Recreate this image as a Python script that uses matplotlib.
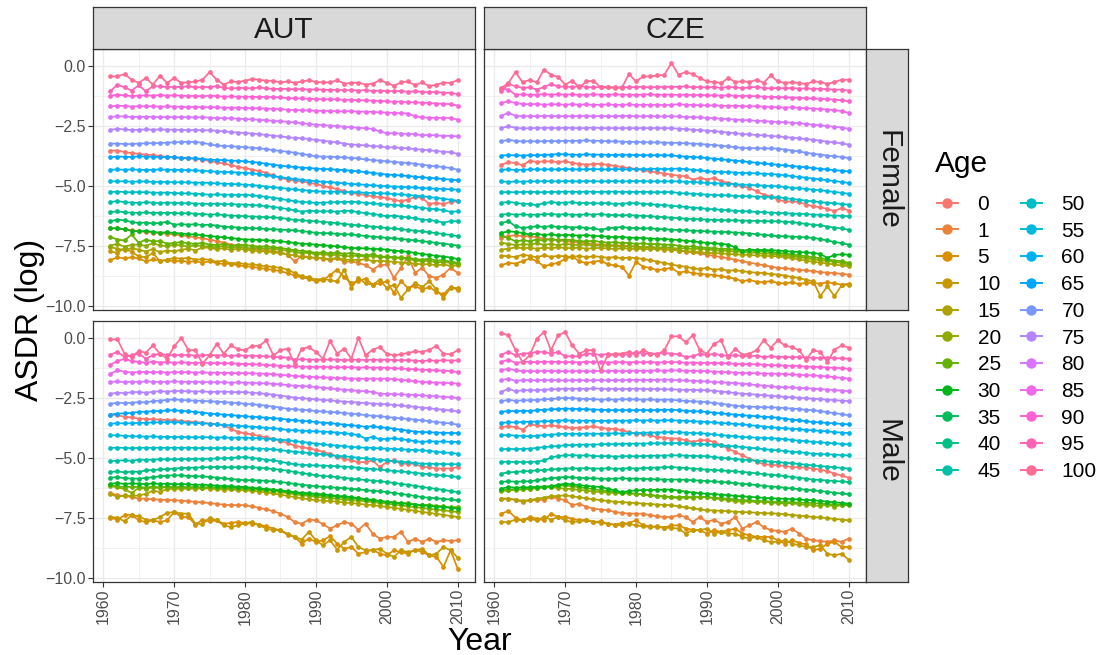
import numpy as np
import matplotlib.pyplot as plt
from matplotlib.lines import Line2D

plt.rcParams['font.family'] = ['Liberation Sans', 'DejaVu Sans']

# log age-specific death rates, 1961-2010
years = list(range(1961, 2011))
ages = [0, 1, 5, 10, 15, 20, 25, 30, 35, 40, 45, 50, 55, 60, 65, 70, 75, 80, 85, 90, 95, 100]
countries = ['AUT', 'CZE']
sexes = ['Female', 'Male']

aut_female = {
    0: [-3.51,-3.51,-3.57,-3.62,-3.65,-3.68,-3.70,-3.74,-3.77,-3.80,
        -3.82,-3.84,-3.86,-3.89,-3.95,-4.00,-4.05,-4.12,-4.19,-4.24,
        -4.31,-4.37,-4.44,-4.55,-4.65,-4.72,-4.76,-4.80,-4.85,-4.90,
        -4.98,-5.05,-5.12,-5.20,-5.28,-5.32,-5.36,-5.42,-5.45,-5.49,
        -5.56,-5.62,-5.56,-5.44,-5.49,-5.74,-5.69,-5.74,-5.65,-5.63],
    1: [-6.74,-6.76,-6.80,-6.84,-6.88,-6.90,-6.93,-6.95,-6.98,-7.01,
        -7.05,-7.08,-7.12,-7.17,-7.22,-7.28,-7.35,-7.43,-7.50,-7.57,
        -7.60,-7.64,-7.67,-7.70,-7.74,-7.85,-8.13,-7.90,-7.95,-7.99,
        -8.02,-8.08,-8.00,-8.15,-8.13,-8.20,-8.28,-8.47,-8.30,-8.26,
        -8.82,-8.40,-7.92,-8.61,-8.40,-8.75,-8.82,-8.68,-8.40,-8.61],
    5: [-8.08,-7.96,-8.01,-7.96,-8.01,-8.13,-8.05,-8.10,-8.08,-8.13,
        -8.10,-8.15,-8.12,-8.18,-8.13,-8.20,-8.24,-8.22,-8.30,-8.33,
        -8.36,-8.40,-8.45,-8.48,-8.54,-8.62,-8.72,-8.80,-8.85,-8.96,
        -8.92,-8.70,-8.47,-8.80,-9.03,-8.95,-8.85,-9.10,-9.05,-8.96,
        -9.44,-8.96,-9.24,-9.15,-9.31,-9.20,-9.40,-9.51,-9.20,-9.31],
    10: [-7.71,-7.78,-7.57,-7.74,-7.92,-7.96,-7.78,-8.13,-8.06,-7.99,
         -8.02,-7.98,-8.06,-8.04,-8.06,-8.15,-8.10,-8.22,-8.18,-8.26,
         -8.25,-8.30,-8.34,-8.36,-8.40,-8.47,-8.62,-8.75,-8.80,-8.89,
         -8.85,-8.92,-8.96,-8.47,-9.24,-8.82,-9.05,-9.10,-8.90,-9.24,
         -9.10,-9.65,-9.30,-9.03,-9.20,-8.96,-9.30,-9.65,-9.24,-9.24],
    15: [-7.54,-7.60,-7.66,-7.58,-7.64,-7.72,-7.62,-7.75,-7.68,-7.71,
         -7.65,-7.60,-7.68,-7.55,-7.57,-7.62,-7.58,-7.66,-7.60,-7.64,
         -7.68,-7.70,-7.72,-7.76,-7.78,-7.85,-7.88,-7.95,-7.96,-7.99,
         -8.00,-8.04,-7.98,-8.06,-8.06,-8.08,-8.04,-8.12,-8.10,-8.13,
         -8.15,-8.18,-8.20,-8.22,-8.26,-8.24,-8.30,-8.26,-8.32,-8.30],
    20: [-7.47,-7.40,-7.52,-7.44,-7.43,-7.48,-7.38,-7.46,-7.50,-7.43,
         -7.46,-7.52,-7.45,-7.50,-7.50,-7.55,-7.48,-7.58,-7.52,-7.57,
         -7.60,-7.55,-7.62,-7.60,-7.64,-7.70,-7.72,-7.80,-7.76,-7.85,
         -7.82,-7.88,-7.85,-7.90,-7.92,-7.88,-7.95,-7.90,-7.96,-7.92,
         -8.00,-7.96,-8.05,-8.08,-8.13,-8.10,-8.18,-8.15,-8.20,-8.24],
    25: [-7.11,-7.22,-7.26,-7.01,-7.36,-7.22,-7.30,-7.28,-7.40,-7.36,
         -7.33,-7.38,-7.40,-7.36,-7.43,-7.45,-7.40,-7.48,-7.44,-7.46,
         -7.48,-7.52,-7.50,-7.55,-7.57,-7.62,-7.66,-7.70,-7.72,-7.78,
         -7.75,-7.80,-7.76,-7.82,-7.78,-7.85,-7.88,-7.84,-7.92,-7.96,
         -7.94,-8.00,-7.97,-8.04,-8.06,-8.02,-8.10,-8.08,-8.14,-8.19],
    30: [-6.76,-6.74,-6.80,-6.85,-6.88,-6.86,-6.90,-6.93,-6.92,-6.94,
         -6.97,-7.00,-7.01,-7.04,-7.08,-7.10,-7.13,-7.16,-7.19,-7.22,
         -7.22,-7.24,-7.25,-7.27,-7.29,-7.33,-7.36,-7.39,-7.41,-7.43,
         -7.46,-7.48,-7.51,-7.54,-7.57,-7.58,-7.59,-7.61,-7.62,-7.64,
         -7.68,-7.71,-7.73,-7.78,-7.82,-7.86,-7.90,-7.93,-7.97,-8.03],
    35: [-6.46,-6.39,-6.42,-6.49,-6.53,-6.51,-6.55,-6.53,-6.48,-6.60,
         -6.58,-6.60,-6.58,-6.62,-6.60,-6.64,-6.68,-6.70,-6.72,-6.74,
         -6.74,-6.76,-6.78,-6.79,-6.81,-6.82,-6.84,-6.87,-6.90,-6.94,
         -6.95,-6.96,-6.98,-7.00,-7.01,-7.04,-7.07,-7.10,-7.12,-7.15,
         -7.17,-7.20,-7.22,-7.26,-7.29,-7.32,-7.36,-7.39,-7.43,-7.47],
    40: [-6.07,-6.05,-6.08,-6.10,-6.11,-6.09,-6.12,-6.10,-6.11,-6.11,
         -6.13,-6.12,-6.15,-6.16,-6.18,-6.17,-6.20,-6.22,-6.23,-6.25,
         -6.26,-6.27,-6.29,-6.30,-6.32,-6.36,-6.40,-6.42,-6.44,-6.46,
         -6.49,-6.51,-6.54,-6.57,-6.60,-6.63,-6.66,-6.68,-6.71,-6.74,
         -6.76,-6.79,-6.82,-6.85,-6.88,-6.92,-6.95,-6.99,-7.03,-7.08],
    45: [-5.65,-5.62,-5.66,-5.68,-5.69,-5.67,-5.68,-5.70,-5.68,-5.69,
         -5.70,-5.71,-5.72,-5.73,-5.74,-5.72,-5.75,-5.74,-5.76,-5.76,
         -5.78,-5.80,-5.83,-5.86,-5.90,-5.95,-6.00,-6.06,-6.02,-6.04,
         -6.05,-6.04,-6.06,-6.02,-6.03,-6.08,-6.12,-6.15,-6.20,-6.25,
         -6.22,-6.26,-6.30,-6.33,-6.39,-6.40,-6.45,-6.52,-6.45,-6.46],
    50: [-5.24,-5.22,-5.24,-5.25,-5.24,-5.25,-5.26,-5.27,-5.26,-5.28,
         -5.29,-5.30,-5.31,-5.33,-5.35,-5.34,-5.35,-5.35,-5.36,-5.35,
         -5.38,-5.41,-5.44,-5.48,-5.52,-5.58,-5.62,-5.65,-5.67,-5.69,
         -5.68,-5.67,-5.66,-5.65,-5.65,-5.66,-5.69,-5.71,-5.74,-5.76,
         -5.78,-5.80,-5.83,-5.87,-5.90,-5.93,-5.96,-5.99,-6.07,-6.04],
    55: [-4.79,-4.80,-4.79,-4.81,-4.80,-4.80,-4.82,-4.81,-4.82,-4.83,
         -4.83,-4.84,-4.85,-4.85,-4.86,-4.88,-4.89,-4.90,-4.92,-4.93,
         -4.95,-4.98,-5.01,-5.04,-5.07,-5.10,-5.13,-5.16,-5.18,-5.21,
         -5.22,-5.22,-5.23,-5.24,-5.24,-5.25,-5.27,-5.28,-5.29,-5.30,
         -5.32,-5.34,-5.36,-5.39,-5.42,-5.45,-5.48,-5.52,-5.56,-5.60],
    60: [-4.31,-4.30,-4.31,-4.30,-4.31,-4.32,-4.31,-4.30,-4.31,-4.31,
         -4.32,-4.33,-4.34,-4.35,-4.38,-4.39,-4.40,-4.41,-4.43,-4.44,
         -4.46,-4.50,-4.54,-4.58,-4.62,-4.66,-4.70,-4.73,-4.76,-4.79,
         -4.81,-4.83,-4.85,-4.88,-4.90,-4.92,-4.94,-4.96,-4.98,-5.00,
         -5.01,-5.02,-5.04,-5.05,-5.07,-5.09,-5.10,-5.11,-5.13,-5.14],
    65: [-3.79,-3.76,-3.77,-3.78,-3.75,-3.76,-3.77,-3.78,-3.78,-3.79,
         -3.81,-3.82,-3.84,-3.86,-3.89,-3.90,-3.91,-3.93,-3.94,-3.96,
         -3.99,-4.02,-4.06,-4.10,-4.14,-4.17,-4.20,-4.22,-4.24,-4.26,
         -4.28,-4.29,-4.31,-4.33,-4.35,-4.38,-4.41,-4.44,-4.48,-4.51,
         -4.53,-4.55,-4.57,-4.60,-4.63,-4.65,-4.67,-4.70,-4.72,-4.75],
    70: [-3.22,-3.22,-3.24,-3.24,-3.22,-3.21,-3.20,-3.20,-3.18,-3.17,
         -3.15,-3.15,-3.15,-3.19,-3.25,-3.30,-3.32,-3.33,-3.35,-3.37,
         -3.39,-3.42,-3.45,-3.49,-3.53,-3.56,-3.60,-3.65,-3.70,-3.75,
         -3.76,-3.77,-3.78,-3.80,-3.82,-3.84,-3.88,-3.91,-3.93,-3.96,
         -3.98,-4.01,-4.03,-4.06,-4.10,-4.14,-4.17,-4.20,-4.24,-4.31],
    75: [-2.64,-2.61,-2.63,-2.66,-2.64,-2.63,-2.64,-2.63,-2.64,-2.64,
         -2.65,-2.66,-2.65,-2.67,-2.66,-2.69,-2.71,-2.74,-2.76,-2.78,
         -2.80,-2.83,-2.86,-2.89,-2.92,-2.96,-2.98,-3.00,-3.03,-3.06,
         -3.10,-3.14,-3.17,-3.22,-3.26,-3.27,-3.30,-3.32,-3.34,-3.38,
         -3.38,-3.40,-3.42,-3.45,-3.47,-3.50,-3.53,-3.56,-3.58,-3.65],
    80: [-2.11,-2.08,-2.09,-2.11,-2.10,-2.11,-2.10,-2.12,-2.11,-2.11,
         -2.12,-2.12,-2.13,-2.12,-2.14,-2.15,-2.16,-2.17,-2.18,-2.20,
         -2.21,-2.23,-2.25,-2.27,-2.29,-2.31,-2.34,-2.37,-2.40,-2.43,
         -2.45,-2.47,-2.49,-2.52,-2.54,-2.56,-2.58,-2.61,-2.71,-2.79,
         -2.79,-2.80,-2.82,-2.83,-2.87,-2.86,-2.88,-2.90,-2.90,-2.92],
    85: [-1.67,-1.64,-1.65,-1.68,-1.66,-1.67,-1.66,-1.68,-1.67,-1.68,
         -1.69,-1.70,-1.69,-1.71,-1.70,-1.71,-1.72,-1.73,-1.72,-1.74,
         -1.74,-1.75,-1.76,-1.77,-1.78,-1.81,-1.82,-1.83,-1.84,-1.85,
         -1.86,-1.86,-1.87,-1.88,-1.87,-1.89,-1.89,-1.90,-1.92,-1.93,
         -1.94,-1.95,-1.97,-2.08,-2.13,-2.14,-2.15,-2.15,-2.16,-2.22],
    90: [-1.22,-1.19,-1.21,-1.24,-1.22,-1.21,-1.22,-1.20,-1.22,-1.21,
         -1.22,-1.24,-1.23,-1.25,-1.22,-1.24,-1.26,-1.25,-1.27,-1.26,
         -1.27,-1.28,-1.27,-1.29,-1.29,-1.33,-1.33,-1.34,-1.35,-1.36,
         -1.37,-1.38,-1.37,-1.40,-1.39,-1.41,-1.42,-1.43,-1.44,-1.46,
         -1.47,-1.47,-1.50,-1.50,-1.52,-1.53,-1.55,-1.56,-1.58,-1.64],
    95: [-1.04,-0.76,-0.88,-1.01,-0.79,-1.04,-0.83,-0.83,-0.86,-0.86,
         -0.86,-0.83,-0.88,-0.86,-0.86,-0.83,-0.90,-0.92,-0.90,-0.90,
         -0.92,-0.88,-0.92,-0.94,-0.94,-0.94,-0.96,-0.94,-0.97,-0.96,
         -0.97,-0.99,-0.97,-1.00,-0.99,-1.01,-0.99,-1.03,-1.01,-1.03,
         -1.04,-1.03,-1.06,-1.04,-1.06,-1.08,-1.07,-1.10,-1.11,-1.15],
    100: [-0.42,-0.42,-0.32,-0.56,-0.69,-0.49,-0.76,-0.39,-0.69,-0.49,
          -0.69,-0.67,-0.63,-0.56,-0.24,-0.56,-0.76,-0.63,-0.65,-0.60,
          -0.53,-0.56,-0.60,-0.60,-0.67,-0.63,-0.69,-0.63,-0.58,-0.65,
          -0.67,-0.67,-0.58,-0.72,-0.69,-0.68,-0.76,-0.72,-0.58,-0.69,
          -0.81,-0.67,-0.63,-0.79,-0.67,-0.83,-0.76,-0.68,-0.69,-0.58],
}

cze_female = {
    0: [-4.10,-4.00,-4.03,-4.13,-3.93,-3.99,-3.96,-3.96,-3.99,-3.96,
        -4.03,-4.07,-4.10,-4.07,-4.07,-4.10,-4.15,-4.20,-4.24,-4.28,
        -4.33,-4.38,-4.42,-4.47,-4.51,-4.56,-4.58,-4.72,-4.65,-4.72,
        -4.65,-4.79,-4.85,-4.93,-5.00,-5.07,-5.21,-5.35,-5.42,-5.56,
        -5.63,-5.63,-5.65,-5.76,-5.83,-5.88,-5.94,-6.04,-5.90,-6.01],
    1: [-7.15,-7.08,-7.04,-7.08,-7.08,-7.12,-7.18,-7.22,-7.25,-7.29,
        -7.32,-7.35,-7.37,-7.40,-7.43,-7.44,-7.46,-7.47,-7.49,-7.50,
        -7.53,-7.55,-7.58,-7.61,-7.64,-7.68,-7.72,-7.76,-7.80,-7.85,
        -7.90,-7.95,-8.00,-8.06,-8.13,-8.18,-8.24,-8.29,-8.35,-8.40,
        -8.42,-8.45,-8.48,-8.51,-8.54,-8.58,-8.60,-8.62,-8.65,-8.68],
    5: [-8.29,-8.19,-8.22,-8.12,-8.01,-8.12,-8.33,-8.26,-8.19,-8.03,
        -7.92,-8.13,-8.20,-8.15,-8.10,-8.25,-8.30,-8.35,-8.72,-8.15,
        -8.35,-8.40,-8.50,-8.45,-8.40,-8.60,-8.55,-8.62,-8.65,-8.68,
        -8.70,-8.75,-8.80,-8.85,-8.96,-8.90,-8.98,-9.00,-8.95,-9.03,
        -9.05,-9.00,-9.08,-9.02,-9.03,-9.06,-9.00,-9.05,-9.10,-9.07],
    10: [-7.89,-7.92,-7.95,-7.85,-7.90,-7.96,-7.88,-7.94,-7.90,-7.92,
         -7.95,-7.90,-7.96,-7.92,-7.94,-7.98,-7.95,-8.00,-7.97,-7.99,
         -8.03,-8.08,-8.14,-8.20,-8.26,-8.32,-8.35,-8.42,-8.45,-8.40,
         -8.48,-8.45,-8.52,-8.50,-8.54,-8.58,-8.60,-8.62,-8.66,-8.68,
         -8.72,-8.78,-8.82,-8.90,-8.96,-9.58,-9.17,-9.58,-9.13,-9.10],
    15: [-7.64,-7.60,-7.55,-7.58,-7.57,-7.60,-7.56,-7.58,-7.55,-7.57,
         -7.58,-7.56,-7.60,-7.58,-7.57,-7.59,-7.62,-7.58,-7.60,-7.62,
         -7.60,-7.63,-7.61,-7.65,-7.64,-7.68,-7.70,-7.72,-7.75,-7.78,
         -7.78,-7.80,-7.82,-7.84,-7.85,-7.87,-7.88,-7.90,-7.91,-7.92,
         -7.96,-8.00,-8.05,-8.10,-8.15,-8.18,-8.22,-8.26,-8.30,-8.33],
    20: [-7.36,-7.40,-7.45,-7.42,-7.43,-7.38,-7.44,-7.40,-7.46,-7.40,
         -7.43,-7.45,-7.42,-7.48,-7.46,-7.50,-7.48,-7.52,-7.50,-7.53,
         -7.55,-7.52,-7.56,-7.54,-7.57,-7.60,-7.58,-7.62,-7.60,-7.64,
         -7.66,-7.70,-7.68,-7.74,-7.72,-7.78,-7.76,-7.82,-7.80,-7.85,
         -7.88,-7.92,-7.95,-8.00,-8.05,-8.08,-8.12,-8.15,-8.20,-8.26],
    25: [-7.05,-7.15,-7.30,-7.25,-7.29,-7.22,-7.26,-7.20,-7.24,-7.22,
         -7.25,-7.28,-7.30,-7.27,-7.32,-7.35,-7.33,-7.37,-7.36,-7.40,
         -7.38,-7.42,-7.40,-7.44,-7.43,-7.48,-7.52,-7.50,-7.55,-7.57,
         -7.58,-7.62,-7.60,-7.65,-7.68,-7.66,-7.72,-7.70,-7.75,-7.78,
         -7.80,-7.85,-7.88,-7.92,-7.96,-8.00,-8.05,-8.10,-8.12,-8.19],
    30: [-6.94,-6.88,-6.90,-6.95,-7.01,-6.98,-7.03,-7.00,-7.05,-7.02,
         -7.04,-7.06,-7.03,-7.07,-7.08,-7.10,-7.12,-7.11,-7.14,-7.15,
         -7.16,-7.18,-7.19,-7.20,-7.22,-7.24,-7.27,-7.30,-7.33,-7.36,
         -7.38,-7.40,-7.43,-7.55,-7.71,-7.64,-7.66,-7.65,-7.67,-7.68,
         -7.70,-7.72,-7.74,-7.76,-7.78,-7.82,-7.99,-7.86,-7.84,-7.85],
    35: [-6.53,-6.46,-6.67,-6.74,-6.70,-6.67,-6.69,-6.66,-6.70,-6.68,
         -6.72,-6.70,-6.74,-6.76,-6.81,-6.76,-6.72,-6.70,-6.73,-6.74,
         -6.76,-6.75,-6.78,-6.79,-6.81,-6.82,-6.84,-6.85,-6.86,-6.88,
         -6.89,-6.90,-6.91,-6.93,-6.94,-6.97,-7.00,-7.02,-7.05,-7.08,
         -7.08,-7.10,-7.11,-7.13,-7.15,-7.20,-7.26,-7.32,-7.37,-7.43],
    40: [-6.18,-6.16,-6.18,-6.17,-6.19,-6.18,-6.17,-6.16,-6.18,-6.17,
         -6.18,-6.19,-6.17,-6.18,-6.16,-6.19,-6.20,-6.21,-6.20,-6.22,
         -6.23,-6.25,-6.27,-6.29,-6.31,-6.33,-6.35,-6.36,-6.38,-6.39,
         -6.40,-6.41,-6.42,-6.42,-6.43,-6.44,-6.44,-6.45,-6.46,-6.46,
         -6.48,-6.50,-6.53,-6.57,-6.60,-6.63,-6.68,-6.72,-6.76,-6.81],
    45: [-5.69,-5.65,-5.69,-5.73,-5.74,-5.79,-5.70,-5.66,-5.69,-5.68,
         -5.67,-5.70,-5.69,-5.71,-5.71,-5.70,-5.74,-5.72,-5.71,-5.70,
         -5.73,-5.75,-5.77,-5.79,-5.81,-5.84,-5.86,-5.89,-5.91,-5.94,
         -5.96,-5.98,-6.00,-6.02,-6.04,-6.05,-6.07,-6.08,-6.10,-6.11,
         -6.12,-6.14,-6.15,-6.16,-6.18,-6.19,-6.21,-6.22,-6.23,-6.25],
    50: [-5.25,-5.24,-5.25,-5.24,-5.23,-5.24,-5.25,-5.23,-5.24,-5.22,
         -5.23,-5.24,-5.22,-5.23,-5.24,-5.23,-5.22,-5.24,-5.23,-5.24,
         -5.23,-5.24,-5.25,-5.24,-5.24,-5.28,-5.30,-5.31,-5.33,-5.35,
         -5.36,-5.37,-5.38,-5.40,-5.41,-5.42,-5.43,-5.44,-5.45,-5.46,
         -5.49,-5.53,-5.56,-5.60,-5.63,-5.66,-5.69,-5.71,-5.74,-5.76],
    55: [-4.79,-4.82,-4.80,-4.81,-4.79,-4.80,-4.78,-4.79,-4.80,-4.78,
         -4.79,-4.80,-4.78,-4.79,-4.80,-4.79,-4.78,-4.80,-4.79,-4.78,
         -4.79,-4.80,-4.79,-4.80,-4.79,-4.80,-4.81,-4.82,-4.84,-4.86,
         -4.87,-4.89,-4.90,-4.91,-4.93,-4.94,-4.96,-4.97,-4.99,-5.00,
         -5.03,-5.06,-5.08,-5.11,-5.14,-5.17,-5.20,-5.24,-5.27,-5.31],
    60: [-4.31,-4.30,-4.32,-4.31,-4.30,-4.29,-4.30,-4.29,-4.30,-4.28,
         -4.29,-4.30,-4.29,-4.28,-4.29,-4.30,-4.28,-4.29,-4.30,-4.28,
         -4.29,-4.28,-4.27,-4.28,-4.28,-4.26,-4.29,-4.31,-4.34,-4.38,
         -4.39,-4.40,-4.41,-4.43,-4.44,-4.45,-4.46,-4.48,-4.49,-4.51,
         -4.54,-4.58,-4.61,-4.64,-4.68,-4.71,-4.75,-4.78,-4.82,-4.86],
    65: [-3.72,-3.70,-3.71,-3.72,-3.70,-3.71,-3.69,-3.68,-3.66,-3.67,
         -3.68,-3.69,-3.67,-3.68,-3.68,-3.69,-3.70,-3.68,-3.69,-3.70,
         -3.70,-3.71,-3.70,-3.71,-3.71,-3.75,-3.76,-3.78,-3.80,-3.82,
         -3.85,-3.88,-3.90,-3.93,-3.96,-3.99,-4.02,-4.05,-4.08,-4.10,
         -4.13,-4.16,-4.18,-4.21,-4.24,-4.27,-4.30,-4.33,-4.35,-4.38],
    70: [-3.13,-3.06,-3.11,-3.13,-3.12,-3.13,-3.12,-3.11,-3.12,-3.10,
         -3.11,-3.10,-3.09,-3.11,-3.10,-3.12,-3.13,-3.14,-3.15,-3.15,
         -3.16,-3.17,-3.17,-3.18,-3.19,-3.19,-3.21,-3.22,-3.24,-3.26,
         -3.28,-3.31,-3.34,-3.37,-3.40,-3.41,-3.41,-3.42,-3.42,-3.43,
         -3.47,-3.51,-3.55,-3.60,-3.65,-3.68,-3.72,-3.75,-3.78,-3.82],
    75: [-2.57,-2.50,-2.56,-2.59,-2.58,-2.57,-2.57,-2.56,-2.58,-2.56,
         -2.57,-2.58,-2.57,-2.56,-2.57,-2.58,-2.57,-2.58,-2.57,-2.58,
         -2.57,-2.58,-2.57,-2.58,-2.58,-2.60,-2.62,-2.64,-2.66,-2.68,
         -2.70,-2.73,-2.76,-2.79,-2.82,-2.84,-2.86,-2.88,-2.90,-2.92,
         -2.95,-2.97,-3.00,-3.03,-3.06,-3.10,-3.14,-3.17,-3.21,-3.26],
    80: [-2.06,-1.94,-2.06,-2.08,-2.07,-2.08,-2.06,-2.07,-2.08,-2.07,
         -2.08,-2.07,-2.06,-2.08,-2.07,-2.08,-2.08,-2.06,-2.07,-2.08,
         -2.08,-2.07,-2.09,-2.08,-2.08,-2.09,-2.11,-2.12,-2.13,-2.15,
         -2.16,-2.18,-2.20,-2.22,-2.24,-2.25,-2.27,-2.28,-2.30,-2.32,
         -2.33,-2.35,-2.37,-2.40,-2.43,-2.46,-2.49,-2.52,-2.55,-2.60],
    85: [-1.53,-1.46,-1.53,-1.57,-1.58,-1.57,-1.60,-1.58,-1.59,-1.60,
         -1.58,-1.60,-1.59,-1.61,-1.60,-1.59,-1.61,-1.60,-1.59,-1.61,
         -1.60,-1.61,-1.60,-1.62,-1.60,-1.58,-1.60,-1.61,-1.62,-1.63,
         -1.63,-1.64,-1.65,-1.64,-1.66,-1.67,-1.66,-1.68,-1.69,-1.71,
         -1.72,-1.71,-1.73,-1.74,-1.76,-1.78,-1.80,-1.83,-1.86,-1.94],
    90: [-0.94,-0.97,-1.18,-1.17,-1.19,-1.18,-1.16,-1.18,-1.17,-1.18,
         -1.17,-1.19,-1.18,-1.17,-1.18,-1.19,-1.17,-1.18,-1.18,-1.19,
         -1.18,-1.17,-1.19,-1.18,-1.18,-1.19,-1.18,-1.20,-1.19,-1.21,
         -1.21,-1.22,-1.21,-1.23,-1.24,-1.23,-1.25,-1.26,-1.27,-1.28,
         -1.29,-1.30,-1.31,-1.33,-1.34,-1.35,-1.37,-1.39,-1.41,-1.46],
    95: [-1.04,-0.74,-0.83,-0.90,-0.88,-0.97,-0.86,-0.74,-0.83,-0.86,
         -0.86,-0.83,-0.86,-0.88,-0.86,-0.85,-0.88,-0.86,-0.88,-0.86,
         -0.85,-0.88,-0.86,-0.86,-0.85,-0.86,-0.83,-0.88,-0.86,-0.88,
         -0.86,-0.90,-0.86,-0.88,-0.90,-0.88,-0.86,-0.90,-0.92,-0.90,
         -0.92,-0.90,-0.93,-0.92,-0.94,-0.93,-0.96,-0.97,-0.97,-1.01],
    100: [-0.90,-0.69,-0.24,-0.67,-0.56,-0.67,-0.14,-0.35,-0.44,-0.76,
          -0.60,-0.88,-0.63,-0.60,-0.88,-0.88,-0.90,-0.90,-0.32,-0.63,
          -0.42,-0.42,-0.38,-0.35,0.14,-0.35,-0.24,-0.32,-0.49,-0.63,
          -0.65,-0.69,-0.49,-0.65,-0.63,-0.65,-0.56,-0.69,-0.38,-0.63,
          -0.69,-0.67,-0.69,-0.74,-0.63,-0.65,-0.74,-0.65,-0.56,-0.56],
}

aut_male = {
    0: [-3.19,-3.22,-3.28,-3.31,-3.36,-3.37,-3.39,-3.40,-3.42,-3.43,
        -3.46,-3.48,-3.50,-3.53,-3.57,-3.60,-3.64,-3.78,-3.92,-3.97,
        -4.02,-4.08,-4.14,-4.20,-4.28,-4.38,-4.48,-4.55,-4.60,-4.66,
        -4.75,-4.82,-4.96,-5.03,-5.10,-5.17,-5.17,-5.10,-5.38,-5.17,
        -5.10,-5.24,-5.24,-5.24,-5.38,-5.38,-5.44,-5.44,-5.44,-5.38],
    1: [-6.46,-6.56,-6.58,-6.63,-6.69,-6.70,-6.72,-6.74,-6.75,-6.76,
        -6.78,-6.80,-6.83,-6.85,-6.88,-6.92,-6.94,-6.97,-6.96,-6.97,
        -7.02,-7.08,-7.14,-7.22,-7.32,-7.46,-7.67,-7.74,-7.57,-7.60,
        -7.76,-7.94,-7.81,-7.67,-7.74,-7.99,-7.74,-8.15,-8.36,-8.29,
        -8.29,-8.08,-8.50,-8.36,-8.50,-8.36,-8.50,-8.43,-8.46,-8.43],
    5: [-7.49,-7.57,-7.39,-7.36,-7.60,-7.67,-7.60,-7.67,-7.60,-7.25,
        -7.46,-7.46,-7.78,-7.57,-7.64,-7.60,-7.74,-7.71,-7.67,-7.71,
        -7.74,-7.78,-7.85,-7.94,-8.02,-8.20,-8.29,-8.57,-8.36,-8.50,
        -8.43,-8.26,-8.57,-8.78,-8.71,-8.99,-8.92,-8.82,-8.99,-9.06,
        -8.85,-8.92,-8.99,-8.82,-8.92,-9.06,-9.12,-9.54,-8.85,-9.61],
    10: [-7.46,-7.49,-7.64,-7.39,-7.43,-7.57,-7.60,-7.46,-7.29,-7.25,
         -7.32,-7.32,-7.74,-7.76,-7.49,-7.60,-7.81,-7.88,-7.81,-7.71,
         -7.67,-7.81,-7.94,-8.01,-8.00,-8.16,-8.29,-8.40,-8.08,-8.43,
         -8.64,-8.43,-8.82,-8.50,-8.29,-8.71,-8.85,-8.85,-8.78,-8.99,
         -9.12,-8.85,-8.92,-8.85,-8.78,-9.06,-8.99,-8.71,-8.85,-9.15],
    15: [-6.49,-6.63,-6.56,-6.59,-6.56,-6.50,-6.36,-6.42,-6.30,-6.28,
         -6.30,-6.27,-6.29,-6.26,-6.28,-6.30,-6.32,-6.31,-6.34,-6.35,
         -6.37,-6.40,-6.44,-6.48,-6.53,-6.58,-6.63,-6.68,-6.72,-6.76,
         -6.78,-6.80,-6.82,-6.86,-6.88,-6.91,-6.94,-6.97,-7.00,-7.04,
         -7.08,-7.12,-7.16,-7.20,-7.25,-7.29,-7.33,-7.37,-7.42,-7.46],
    20: [-6.17,-6.22,-6.30,-6.46,-6.25,-6.28,-6.22,-6.26,-6.20,-6.24,
         -6.22,-6.25,-6.20,-6.24,-6.22,-6.26,-6.25,-6.28,-6.27,-6.30,
         -6.30,-6.33,-6.35,-6.38,-6.42,-6.47,-6.51,-6.55,-6.58,-6.63,
         -6.65,-6.68,-6.70,-6.74,-6.76,-6.78,-6.80,-6.84,-6.87,-6.90,
         -6.94,-6.98,-7.01,-7.05,-7.08,-7.12,-7.15,-7.18,-7.22,-7.25],
    25: [-6.14,-6.18,-6.22,-6.20,-6.21,-6.24,-6.19,-6.23,-6.20,-6.22,
         -6.20,-6.23,-6.21,-6.25,-6.21,-6.24,-6.22,-6.26,-6.24,-6.25,
         -6.28,-6.30,-6.33,-6.35,-6.38,-6.42,-6.47,-6.49,-6.53,-6.56,
         -6.58,-6.62,-6.60,-6.66,-6.70,-6.68,-6.74,-6.76,-6.80,-6.83,
         -6.85,-6.90,-6.88,-6.94,-6.97,-6.95,-7.00,-7.02,-7.06,-7.04],
    30: [-6.07,-6.05,-6.08,-6.06,-6.07,-6.09,-6.06,-6.08,-6.07,-6.10,
         -6.08,-6.10,-6.12,-6.11,-6.14,-6.15,-6.17,-6.18,-6.20,-6.21,
         -6.24,-6.27,-6.29,-6.32,-6.35,-6.39,-6.43,-6.45,-6.47,-6.49,
         -6.52,-6.55,-6.58,-6.60,-6.63,-6.67,-6.71,-6.75,-6.79,-6.83,
         -6.86,-6.89,-6.91,-6.94,-6.97,-7.00,-7.03,-7.05,-7.08,-7.11],
    35: [-5.82,-5.80,-5.84,-5.86,-5.86,-5.83,-5.80,-5.76,-5.74,-5.72,
         -5.73,-5.75,-5.76,-5.77,-5.79,-5.82,-5.85,-5.88,-5.90,-5.93,
         -5.92,-5.94,-5.95,-5.98,-6.00,-6.04,-6.08,-6.11,-6.15,-6.18,
         -6.20,-6.22,-6.24,-6.26,-6.28,-6.31,-6.34,-6.37,-6.39,-6.42,
         -6.46,-6.50,-6.54,-6.58,-6.63,-6.66,-6.68,-6.71,-6.73,-6.76],
    40: [-5.58,-5.56,-5.60,-5.57,-5.58,-5.52,-5.50,-5.48,-5.46,-5.44,
         -5.42,-5.41,-5.40,-5.39,-5.38,-5.37,-5.38,-5.39,-5.38,-5.38,
         -5.39,-5.41,-5.43,-5.46,-5.49,-5.53,-5.58,-5.63,-5.67,-5.72,
         -5.75,-5.77,-5.80,-5.83,-5.86,-5.89,-5.92,-5.94,-5.97,-6.00,
         -6.04,-6.08,-6.12,-6.16,-6.21,-6.25,-6.29,-6.33,-6.38,-6.42],
    45: [-5.13,-5.11,-5.10,-5.12,-5.07,-5.08,-5.07,-5.06,-5.05,-5.06,
         -5.04,-5.05,-5.03,-5.04,-5.03,-5.02,-5.01,-5.00,-4.98,-4.96,
         -5.00,-5.03,-5.08,-5.10,-5.15,-5.22,-5.26,-5.28,-5.30,-5.31,
         -5.32,-5.33,-5.35,-5.36,-5.38,-5.41,-5.44,-5.46,-5.48,-5.51,
         -5.54,-5.56,-5.59,-5.62,-5.65,-5.68,-5.71,-5.73,-5.76,-5.79],
    50: [-4.58,-4.57,-4.58,-4.59,-4.58,-4.57,-4.58,-4.57,-4.58,-4.57,
         -4.58,-4.57,-4.58,-4.59,-4.58,-4.59,-4.58,-4.60,-4.59,-4.60,
         -4.60,-4.61,-4.62,-4.64,-4.67,-4.71,-4.74,-4.77,-4.79,-4.82,
         -4.85,-4.88,-4.91,-4.93,-4.96,-4.99,-5.02,-5.05,-5.07,-5.10,
         -5.13,-5.15,-5.18,-5.21,-5.24,-5.24,-5.25,-5.25,-5.26,-5.26],
    55: [-4.06,-4.05,-4.08,-4.09,-4.10,-4.11,-4.10,-4.12,-4.11,-4.13,
         -4.12,-4.13,-4.14,-4.13,-4.14,-4.15,-4.14,-4.16,-4.15,-4.15,
         -4.17,-4.18,-4.20,-4.22,-4.24,-4.26,-4.30,-4.33,-4.37,-4.40,
         -4.43,-4.46,-4.48,-4.51,-4.54,-4.56,-4.57,-4.58,-4.60,-4.61,
         -4.62,-4.64,-4.65,-4.67,-4.68,-4.71,-4.74,-4.77,-4.79,-4.82],
    60: [-3.57,-3.55,-3.56,-3.55,-3.54,-3.53,-3.52,-3.51,-3.51,-3.50,
         -3.52,-3.53,-3.54,-3.56,-3.57,-3.60,-3.62,-3.64,-3.66,-3.68,
         -3.70,-3.72,-3.74,-3.76,-3.79,-3.83,-3.85,-3.86,-3.88,-3.89,
         -3.90,-3.92,-3.94,-3.97,-4.00,-4.05,-4.19,-4.12,-4.22,-4.20,
         -4.18,-4.22,-4.25,-4.30,-4.33,-4.30,-4.32,-4.31,-4.33,-4.33],
    65: [-3.19,-3.15,-3.14,-3.12,-3.08,-3.07,-3.05,-3.04,-3.02,-3.01,
         -3.04,-3.06,-3.08,-3.11,-3.15,-3.17,-3.19,-3.21,-3.24,-3.26,
         -3.28,-3.30,-3.32,-3.34,-3.36,-3.40,-3.43,-3.45,-3.47,-3.50,
         -3.53,-3.55,-3.58,-3.61,-3.64,-3.66,-3.70,-3.68,-3.72,-3.74,
         -3.78,-3.82,-3.86,-3.90,-3.92,-3.93,-3.94,-3.95,-3.96,-3.96],
    70: [-2.74,-2.70,-2.71,-2.70,-2.67,-2.68,-2.63,-2.61,-2.58,-2.56,
         -2.58,-2.60,-2.61,-2.62,-2.64,-2.65,-2.67,-2.69,-2.71,-2.74,
         -2.76,-2.79,-2.82,-2.86,-2.90,-2.95,-2.97,-2.99,-3.01,-3.04,
         -3.06,-3.08,-3.10,-3.13,-3.15,-3.18,-3.21,-3.24,-3.26,-3.29,
         -3.32,-3.35,-3.37,-3.40,-3.43,-3.47,-3.50,-3.53,-3.56,-3.61],
    75: [-2.32,-2.28,-2.30,-2.26,-2.25,-2.28,-2.24,-2.22,-2.23,-2.21,
         -2.21,-2.22,-2.23,-2.22,-2.25,-2.24,-2.23,-2.25,-2.26,-2.25,
         -2.28,-2.30,-2.33,-2.36,-2.40,-2.44,-2.48,-2.51,-2.53,-2.56,
         -2.58,-2.60,-2.62,-2.65,-2.67,-2.69,-2.71,-2.73,-2.75,-2.76,
         -2.79,-2.81,-2.84,-2.87,-2.90,-2.93,-2.96,-2.99,-3.02,-3.06],
    80: [-1.83,-1.81,-1.84,-1.82,-1.83,-1.81,-1.82,-1.83,-1.82,-1.81,
         -1.82,-1.83,-1.82,-1.84,-1.83,-1.85,-1.84,-1.86,-1.85,-1.86,
         -1.87,-1.88,-1.89,-1.91,-1.93,-1.96,-1.99,-2.00,-2.02,-2.04,
         -2.07,-2.10,-2.13,-2.15,-2.18,-2.20,-2.22,-2.25,-2.32,-2.33,
         -2.34,-2.35,-2.36,-2.37,-2.39,-2.41,-2.43,-2.45,-2.47,-2.50],
    85: [-1.49,-1.35,-1.40,-1.44,-1.42,-1.41,-1.43,-1.42,-1.44,-1.42,
         -1.43,-1.42,-1.44,-1.43,-1.45,-1.44,-1.46,-1.45,-1.47,-1.46,
         -1.47,-1.48,-1.49,-1.51,-1.53,-1.56,-1.58,-1.60,-1.61,-1.63,
         -1.64,-1.65,-1.66,-1.68,-1.69,-1.69,-1.70,-1.69,-1.70,-1.69,
         -1.72,-1.74,-1.77,-1.80,-1.83,-1.84,-1.86,-1.87,-1.88,-1.90],
    90: [-1.11,-0.96,-0.86,-0.96,-1.00,-1.03,-0.98,-1.02,-1.00,-1.03,
         -1.01,-1.03,-1.04,-1.02,-1.05,-1.04,-1.06,-1.05,-1.07,-1.08,
         -1.09,-1.10,-1.12,-1.14,-1.16,-1.18,-1.18,-1.19,-1.20,-1.21,
         -1.20,-1.21,-1.22,-1.21,-1.22,-1.23,-1.22,-1.24,-1.23,-1.24,
         -1.26,-1.27,-1.29,-1.30,-1.32,-1.33,-1.35,-1.36,-1.38,-1.42],
    95: [-0.69,-0.58,-0.79,-0.72,-0.65,-0.86,-0.72,-0.65,-0.72,-0.70,
         -0.72,-0.70,-0.74,-0.72,-0.70,-0.73,-0.72,-0.75,-0.72,-0.74,
         -0.73,-0.75,-0.76,-0.78,-0.80,-0.82,-0.90,-0.88,-0.90,-0.90,
         -0.91,-0.89,-0.90,-0.92,-0.91,-0.90,-0.92,-0.90,-0.91,-0.90,
         -0.92,-0.93,-0.92,-0.94,-0.96,-0.93,-0.95,-0.92,-0.94,-0.93],
    100: [-0.06,-0.06,-0.65,-0.79,-0.54,-0.61,-0.31,-0.65,-0.86,-0.35,
          0.01,-0.49,-0.51,-1.07,-0.72,-0.24,-0.65,-0.31,-0.47,-0.51,
          -0.33,-0.33,-0.10,-0.72,-0.51,-0.44,-1.07,-0.44,-0.38,-0.58,
          -0.86,-0.12,-0.65,-0.44,-0.86,0.01,-0.72,-0.49,-0.38,-0.65,
          -0.72,-0.68,-0.62,-0.56,-0.58,-0.49,-0.33,-0.65,-0.68,-0.51],
}

cze_male = {
    0: [-3.71,-3.68,-3.71,-3.82,-3.60,-3.64,-3.68,-3.64,-3.68,-3.71,
        -3.74,-3.74,-3.71,-3.68,-3.74,-3.78,-3.78,-3.85,-3.92,-3.99,
        -3.99,-4.06,-4.13,-4.15,-4.19,-4.19,-4.26,-4.33,-4.26,-4.26,
        -4.33,-4.47,-4.61,-4.75,-4.89,-5.03,-5.15,-5.26,-5.28,-5.31,
        -5.33,-5.38,-5.38,-5.40,-5.44,-5.49,-5.55,-5.65,-5.73,-5.82],
    1: [-6.69,-6.69,-6.74,-6.83,-6.76,-6.76,-6.74,-6.63,-6.69,-6.76,
        -6.97,-6.90,-7.04,-7.11,-7.15,-7.18,-7.25,-7.29,-7.32,-7.32,
        -7.32,-7.39,-7.43,-7.46,-7.46,-7.39,-7.46,-7.67,-7.46,-7.67,
        -7.57,-7.74,-7.67,-7.46,-7.94,-7.81,-7.67,-7.88,-8.01,-8.04,
        -8.08,-7.94,-8.15,-8.36,-8.43,-8.46,-8.50,-8.43,-8.50,-8.36],
    5: [-7.32,-7.21,-7.49,-7.60,-7.46,-7.53,-7.60,-7.32,-7.46,-7.46,
        -7.53,-7.60,-7.57,-7.67,-7.64,-7.74,-7.78,-7.81,-7.71,-7.60,
        -7.81,-7.85,-7.88,-7.90,-7.81,-7.81,-7.94,-7.99,-8.01,-8.15,
        -8.01,-8.08,-8.01,-7.94,-8.15,-8.22,-8.29,-8.29,-8.29,-8.43,
        -8.57,-8.43,-8.54,-8.60,-8.85,-8.78,-8.57,-8.50,-8.71,-8.71],
    10: [-7.67,-7.67,-7.57,-7.60,-7.53,-7.60,-7.46,-7.57,-7.46,-7.60,
         -7.67,-7.64,-7.60,-7.67,-7.70,-7.74,-7.78,-7.71,-7.74,-7.81,
         -7.85,-7.88,-7.85,-7.90,-7.92,-7.94,-8.15,-8.01,-8.01,-7.94,
         -8.15,-8.08,-8.15,-8.15,-8.29,-8.36,-8.29,-8.43,-8.50,-8.50,
         -8.43,-8.57,-8.64,-8.71,-8.71,-8.64,-8.99,-9.06,-8.99,-9.24],
    15: [-6.69,-6.72,-6.74,-6.78,-6.76,-6.70,-6.65,-6.60,-6.58,-6.56,
         -6.60,-6.64,-6.68,-6.72,-6.76,-6.79,-6.82,-6.84,-6.86,-6.88,
         -6.90,-6.92,-6.94,-6.96,-6.97,-7.02,-7.06,-7.10,-7.14,-7.18,
         -7.19,-7.20,-7.22,-7.24,-7.25,-7.27,-7.28,-7.30,-7.31,-7.32,
         -7.35,-7.38,-7.40,-7.43,-7.46,-7.48,-7.51,-7.54,-7.57,-7.60],
    20: [-6.38,-6.35,-6.33,-6.30,-6.28,-6.25,-6.23,-6.21,-6.25,-6.28,
         -6.30,-6.33,-6.36,-6.40,-6.42,-6.44,-6.46,-6.47,-6.48,-6.49,
         -6.52,-6.55,-6.58,-6.60,-6.63,-6.68,-6.64,-6.66,-6.62,-6.63,
         -6.68,-6.72,-6.76,-6.80,-6.83,-6.80,-6.85,-6.82,-6.86,-6.88,
         -6.90,-6.88,-6.93,-6.95,-6.97,-7.00,-6.94,-7.03,-6.96,-6.90],
    25: [-6.35,-6.32,-6.30,-6.31,-6.28,-6.26,-6.22,-6.19,-6.16,-6.14,
         -6.18,-6.22,-6.26,-6.30,-6.35,-6.38,-6.42,-6.45,-6.47,-6.49,
         -6.52,-6.55,-6.58,-6.61,-6.63,-6.63,-6.62,-6.64,-6.63,-6.63,
         -6.66,-6.68,-6.70,-6.73,-6.76,-6.77,-6.79,-6.80,-6.82,-6.83,
         -6.84,-6.85,-6.86,-6.87,-6.88,-6.90,-6.92,-6.94,-6.96,-6.97],
    30: [-6.28,-6.21,-6.24,-6.22,-6.23,-6.20,-6.19,-6.18,-6.12,-6.07,
         -6.10,-6.14,-6.16,-6.19,-6.21,-6.28,-6.35,-6.42,-6.38,-6.35,
         -6.34,-6.33,-6.33,-6.32,-6.32,-6.36,-6.40,-6.44,-6.47,-6.49,
         -6.51,-6.53,-6.55,-6.58,-6.60,-6.62,-6.64,-6.66,-6.68,-6.69,
         -6.70,-6.72,-6.73,-6.75,-6.76,-6.79,-6.82,-6.85,-6.88,-6.90],
    35: [-6.00,-5.97,-5.99,-5.98,-5.97,-5.93,-5.88,-5.85,-5.82,-5.79,
         -5.81,-5.83,-5.84,-5.85,-5.86,-5.87,-5.86,-5.85,-5.86,-5.86,
         -5.87,-5.88,-5.89,-5.90,-5.90,-5.90,-5.91,-5.93,-5.94,-5.96,
         -5.98,-6.00,-6.02,-6.05,-6.07,-6.10,-6.13,-6.16,-6.19,-6.21,
         -6.24,-6.27,-6.30,-6.32,-6.35,-6.38,-6.41,-6.45,-6.48,-6.51],
    40: [-5.65,-5.60,-5.58,-5.56,-5.54,-5.52,-5.50,-5.48,-5.46,-5.44,
         -5.43,-5.44,-5.42,-5.44,-5.44,-5.43,-5.45,-5.44,-5.43,-5.44,
         -5.42,-5.41,-5.40,-5.39,-5.38,-5.40,-5.42,-5.44,-5.46,-5.49,
         -5.50,-5.52,-5.54,-5.56,-5.58,-5.61,-5.64,-5.67,-5.70,-5.72,
         -5.76,-5.79,-5.83,-5.86,-5.90,-5.92,-5.94,-5.96,-5.98,-6.00],
    45: [-5.17,-5.15,-5.17,-5.17,-5.17,-5.15,-5.10,-4.98,-4.92,-4.89,
         -4.88,-4.90,-4.89,-4.91,-4.93,-4.92,-4.94,-4.93,-4.92,-4.93,
         -4.92,-4.91,-4.90,-4.90,-4.89,-4.89,-4.90,-4.91,-4.92,-4.93,
         -4.96,-4.99,-5.02,-5.04,-5.07,-5.09,-5.11,-5.13,-5.15,-5.17,
         -5.20,-5.22,-5.25,-5.28,-5.31,-5.34,-5.36,-5.39,-5.41,-5.44],
    50: [-4.64,-4.62,-4.63,-4.62,-4.61,-4.58,-4.55,-4.52,-4.50,-4.47,
         -4.46,-4.45,-4.44,-4.44,-4.43,-4.42,-4.42,-4.41,-4.41,-4.40,
         -4.40,-4.39,-4.39,-4.38,-4.38,-4.38,-4.39,-4.40,-4.42,-4.43,
         -4.45,-4.47,-4.50,-4.52,-4.54,-4.57,-4.60,-4.63,-4.66,-4.68,
         -4.71,-4.74,-4.76,-4.79,-4.82,-4.84,-4.85,-4.86,-4.88,-4.89],
    55: [-4.06,-4.04,-4.07,-4.08,-4.10,-4.07,-4.05,-4.03,-4.01,-3.99,
         -3.99,-4.00,-3.98,-3.99,-3.99,-3.98,-3.97,-3.98,-3.97,-3.96,
         -3.95,-3.94,-3.94,-3.93,-3.92,-3.93,-3.94,-3.96,-3.97,-3.99,
         -4.02,-4.05,-4.07,-4.10,-4.12,-4.14,-4.15,-4.16,-4.18,-4.19,
         -4.22,-4.25,-4.28,-4.30,-4.33,-4.35,-4.37,-4.39,-4.41,-4.43],
    60: [-3.54,-3.51,-3.52,-3.50,-3.49,-3.48,-3.47,-3.46,-3.44,-3.43,
         -3.44,-3.45,-3.44,-3.45,-3.46,-3.45,-3.44,-3.45,-3.44,-3.43,
         -3.44,-3.43,-3.44,-3.43,-3.43,-3.44,-3.45,-3.47,-3.48,-3.50,
         -3.52,-3.54,-3.56,-3.58,-3.60,-3.63,-3.66,-3.69,-3.72,-3.74,
         -3.76,-3.78,-3.80,-3.83,-3.85,-3.87,-3.89,-3.92,-3.94,-3.96],
    65: [-3.08,-3.04,-3.05,-3.03,-3.04,-3.01,-2.99,-2.97,-2.96,-2.94,
         -2.95,-2.96,-2.97,-2.98,-2.99,-3.00,-3.01,-3.00,-3.01,-3.01,
         -3.00,-3.01,-3.00,-2.99,-2.99,-3.01,-3.03,-3.05,-3.06,-3.08,
         -3.11,-3.14,-3.17,-3.19,-3.22,-3.24,-3.26,-3.28,-3.30,-3.32,
         -3.36,-3.40,-3.43,-3.47,-3.50,-3.52,-3.54,-3.56,-3.58,-3.60],
    70: [-2.64,-2.57,-2.62,-2.60,-2.59,-2.58,-2.56,-2.54,-2.52,-2.49,
         -2.51,-2.53,-2.54,-2.55,-2.57,-2.56,-2.57,-2.55,-2.56,-2.56,
         -2.57,-2.56,-2.58,-2.57,-2.57,-2.60,-2.62,-2.64,-2.65,-2.67,
         -2.71,-2.74,-2.78,-2.82,-2.85,-2.86,-2.87,-2.88,-2.89,-2.90,
         -2.92,-2.94,-2.96,-2.99,-3.01,-3.05,-3.09,-3.13,-3.17,-3.22],
    75: [-2.25,-2.11,-2.22,-2.18,-2.17,-2.18,-2.15,-2.14,-2.13,-2.11,
         -2.12,-2.11,-2.12,-2.10,-2.11,-2.12,-2.11,-2.13,-2.12,-2.11,
         -2.12,-2.13,-2.12,-2.14,-2.14,-2.15,-2.16,-2.16,-2.17,-2.18,
         -2.20,-2.23,-2.26,-2.29,-2.32,-2.34,-2.36,-2.38,-2.41,-2.43,
         -2.45,-2.47,-2.49,-2.51,-2.53,-2.55,-2.57,-2.59,-2.61,-2.63],
    80: [-1.76,-1.69,-1.79,-1.76,-1.75,-1.77,-1.74,-1.76,-1.75,-1.77,
         -1.76,-1.75,-1.77,-1.76,-1.75,-1.77,-1.75,-1.76,-1.74,-1.75,
         -1.74,-1.75,-1.74,-1.73,-1.74,-1.76,-1.77,-1.78,-1.80,-1.81,
         -1.83,-1.85,-1.86,-1.88,-1.90,-1.93,-1.96,-1.98,-2.01,-2.04,
         -2.05,-2.06,-2.08,-2.09,-2.11,-2.13,-2.15,-2.17,-2.19,-2.22],
    85: [-1.35,-1.28,-1.35,-1.38,-1.37,-1.39,-1.36,-1.38,-1.37,-1.39,
         -1.38,-1.37,-1.39,-1.38,-1.37,-1.38,-1.36,-1.38,-1.37,-1.36,
         -1.37,-1.36,-1.35,-1.36,-1.35,-1.35,-1.36,-1.37,-1.37,-1.38,
         -1.40,-1.41,-1.43,-1.44,-1.46,-1.46,-1.47,-1.48,-1.48,-1.49,
         -1.50,-1.52,-1.53,-1.55,-1.56,-1.58,-1.60,-1.63,-1.66,-1.69],
    90: [-1.00,-0.90,-1.04,-1.00,-0.99,-1.01,-0.98,-1.00,-0.99,-1.01,
         -1.00,-1.02,-0.99,-1.01,-1.00,-1.02,-1.01,-1.00,-1.02,-1.00,
         -1.01,-1.00,-1.02,-1.01,-1.00,-1.01,-1.03,-1.02,-1.04,-1.03,
         -1.05,-1.04,-1.06,-1.07,-1.08,-1.09,-1.10,-1.11,-1.13,-1.14,
         -1.15,-1.16,-1.17,-1.19,-1.20,-1.21,-1.23,-1.24,-1.26,-1.28],
    95: [-0.69,-0.58,-0.72,-0.65,-0.63,-0.58,-0.58,-0.65,-0.58,-0.76,
         -0.76,-0.76,-0.65,-0.65,-0.72,-0.65,-0.72,-0.69,-0.69,-0.58,
         -0.65,-0.65,-0.65,-0.63,-0.65,-0.68,-0.79,-0.76,-0.65,-0.72,
         -0.65,-0.72,-0.74,-0.72,-0.74,-0.76,-0.74,-0.79,-0.76,-0.79,
         -0.78,-0.80,-0.79,-0.82,-0.82,-0.83,-0.82,-0.84,-0.85,-0.86],
    100: [0.22,0.11,-0.51,-1.00,-0.72,-0.03,0.25,-0.51,0.11,0.25,
          -0.31,-0.65,-0.51,-0.51,-1.35,-0.72,-0.65,-0.65,-0.58,-0.72,
          -0.49,-0.65,-0.69,-0.51,0.07,0.07,-0.17,0.11,-0.51,-0.65,
          -0.24,-0.10,-0.79,-0.44,-0.69,-0.65,-0.51,-0.10,-0.40,-0.10,
          -0.31,-0.38,-0.51,-0.90,-0.51,-0.58,-1.00,-0.49,-0.31,-0.40],
}

panels = {('AUT', 'Female'): aut_female, ('CZE', 'Female'): cze_female,
          ('AUT', 'Male'): aut_male, ('CZE', 'Male'): cze_male}


def hue_colors(n, c=100.0, l=65.0):
    # ggplot2 default hue palette (polar CIE-Luv -> sRGB)
    un, vn = 0.19784, 0.46834
    m = np.array([[3.2404542, -1.5371385, -0.4985314],
                  [-0.9692660, 1.8760108, 0.0415560],
                  [0.0556434, -0.2040259, 1.0572252]])
    cols = []
    for i in range(n):
        h = np.deg2rad(15 + 360.0 * i / n)
        u, v = c * np.cos(h), c * np.sin(h)
        Y = ((l + 16) / 116) ** 3
        up = u / (13 * l) + un
        vp = v / (13 * l) + vn
        X = Y * 9 * up / (4 * vp)
        Z = Y * (12 - 3 * up - 20 * vp) / (4 * vp)
        rgb = m @ np.array([X, Y, Z])
        rgb = np.where(rgb <= 0.0031308, 12.92 * rgb, 1.055 * np.clip(rgb, 0, None) ** (1 / 2.4) - 0.055)
        cols.append(tuple(np.clip(rgb, 0, 1)))
    return cols


colors = hue_colors(len(ages))

W, H = 1105, 655
fig = plt.figure(figsize=(W / 100, H / 100), dpi=100)


def box(x0, y0, x1, y1):
    return [x0 / W, 1 - y1 / H, (x1 - x0) / W, (y1 - y0) / H]


col_x = {'AUT': (93, 475), 'CZE': (484, 866)}
row_y = {'Female': (49.3, 310.3), 'Male': (321, 582)}
border = '#333333'

for (country, sex), data in panels.items():
    x0, x1 = col_x[country]
    y0, y1 = row_y[sex]
    ax = fig.add_axes(box(x0, y0, x1, y1))
    ax.set_xlim(1958.55, 2012.45)
    ax.set_ylim(-10.17, 0.71)
    ax.set_xticks(range(1960, 2011, 10))
    ax.set_xticks(range(1965, 2010, 10), minor=True)
    ax.set_yticks([-10, -7.5, -5, -2.5, 0])
    ax.set_yticks([-8.75, -6.25, -3.75, -1.25], minor=True)
    ax.grid(which='major', color='#EBEBEB', lw=1.0)
    ax.grid(which='minor', color='#EBEBEB', lw=0.5)
    ax.set_axisbelow(True)
    for s in ax.spines.values():
        s.set_color(border)
        s.set_linewidth(0.9)
    ax.tick_params(which='minor', length=0)
    ax.tick_params(which='major', length=3.5, width=0.8, color=border,
                   labelsize=11.5, labelcolor='#4D4D4D', pad=1.5)
    ax.set_yticklabels(['\u221210.0', '\u22127.5', '\u22125.0', '\u22122.5', '0.0'])
    ax.set_xticklabels([str(y) for y in range(1960, 2011, 10)], rotation=90)
    if sex == 'Female':
        ax.tick_params(axis='x', which='both', bottom=False, labelbottom=False)
    if country == 'CZE':
        ax.tick_params(axis='y', which='both', left=False, labelleft=False)

    for a, c in zip(ages, colors):
        ax.plot(years, data[a], color=c, lw=1.25, zorder=2)
    for a, c in zip(ages, colors):
        ax.plot(years, data[a], 'o', color=c, ms=3.4, mew=0, zorder=3)

# facet strips
for country, (x0, x1) in col_x.items():
    s = fig.add_axes(box(x0, 7.3, x1, 49.3))
    s.set_facecolor('#D9D9D9')
    s.set_xticks([]); s.set_yticks([])
    for sp in s.spines.values():
        sp.set_color(border); sp.set_linewidth(0.9)
    s.text(0.5, 0.47, country, ha='center', va='center', fontsize=21.5,
           color='#1A1A1A', transform=s.transAxes)
for sex, (y0, y1) in row_y.items():
    s = fig.add_axes(box(866, y0, 908, y1))
    s.set_facecolor('#D9D9D9')
    s.set_xticks([]); s.set_yticks([])
    for sp in s.spines.values():
        sp.set_color(border); sp.set_linewidth(0.9)
    s.text(0.5, 0.5, sex, ha='center', va='center', fontsize=21.5,
           rotation=-90, color='#1A1A1A', transform=s.transAxes)

fig.text(30 / W, 1 - 320 / H, 'ASDR (log)', rotation=90, ha='center',
         va='center', fontsize=23)
fig.text(479.5 / W, 1 - 650 / H, 'Year', ha='center', va='baseline', fontsize=23)

# legend: title as its own text, keys in two columns below it
fig.text(935 / W, 1 - 171.5 / H, 'Age', ha='left', va='baseline', fontsize=21.5)
handles = [Line2D([], [], color=c, marker='o', ms=7.5, mew=0, lw=1.4) for c in colors]
fig.legend(handles, [str(a) for a in ages], ncol=2, loc='upper left',
           bbox_to_anchor=(937 / W, 1 - 195 / H), frameon=False,
           fontsize=15, handlelength=1.0, handletextpad=0.95, columnspacing=0.95,
           labelspacing=0.37, borderpad=0, borderaxespad=0)

fig.savefig('out.png', dpi=100)
